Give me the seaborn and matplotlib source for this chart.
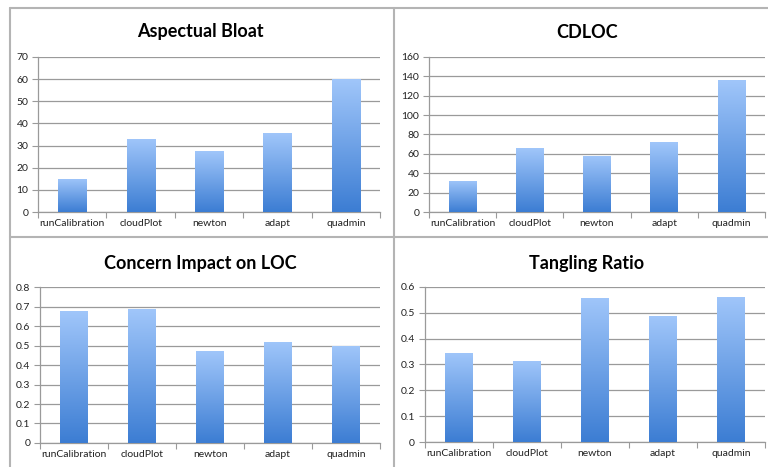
import matplotlib
matplotlib.use("Agg")
import matplotlib.pyplot as plt
import matplotlib.colors as mcolors
from matplotlib.lines import Line2D
import seaborn as sns
import numpy as np
import pandas as pd

programs = ["runCalibration", "cloudPlot", "newton", "adapt", "quadmin"]

aspectual_bloat = [15, 33, 27.5, 35.5, 60]
cdloc = [32, 66, 58, 72, 136]
concern_impact = [0.675, 0.685, 0.47, 0.52, 0.50]
tangling_ratio = [0.345, 0.315, 0.558, 0.487, 0.563]

titles = ["Aspectual Bloat", "CDLOC", "Concern Impact on LOC", "Tangling Ratio"]
series = [aspectual_bloat, cdloc, concern_impact, tangling_ratio]
y_max = [70, 160, 0.8, 0.6]
y_step = [10, 20, 0.1, 0.1]

sns.set_theme(style="white")
plt.rcParams['font.family'] = ['Lato', 'DejaVu Sans']

fig = plt.figure(figsize=(7.68, 4.67), dpi=100)

# axes rectangles in figure fractions
rects = [
    [0.0495, 0.546, 0.4455, 0.332],
    [0.5586, 0.546, 0.4374, 0.332],
    [0.052, 0.0514, 0.443, 0.334],
    [0.553, 0.0535, 0.443, 0.332],
]
title_pos = [(200, 32), (587, 32), (200, 263), (587, 263)]

grad_cmap = mcolors.LinearSegmentedColormap.from_list(
    "bar_grad", ["#3C7DD3", "#A0C6FA"])
gradient = np.linspace(0, 1, 256).reshape(-1, 1)

for rect, title, vals, ymax, step, tp in zip(rects, titles, series, y_max, y_step, title_pos):
    ax = fig.add_axes(rect)
    df = pd.DataFrame({"program": programs, "value": vals})
    sns.barplot(data=df, x="program", y="value", ax=ax, color="#5B95E0",
                width=0.41, saturation=1)

    # gradient fill clipped to each bar
    for bar in ax.patches:
        x0, y0 = bar.get_x(), bar.get_y()
        w, h = bar.get_width(), bar.get_height()
        im = ax.imshow(gradient, cmap=grad_cmap, aspect="auto",
                       extent=[x0, x0 + w, y0, y0 + h], origin="lower", zorder=3)
        im.set_clip_path(bar)
        bar.set_facecolor("none")
        bar.set_edgecolor("none")

    ax.set_xlim(-0.5, 4.5)
    ax.set_ylim(0, ymax)
    ticks = np.round(np.arange(0, ymax + step / 2, step), 2)
    ax.set_yticks(ticks)
    if step < 1:
        ax.set_yticklabels([("0" if t == 0 else f"{t:.1f}") for t in ticks])
    else:
        ax.set_yticklabels([str(int(t)) for t in ticks])
    ax.yaxis.grid(True, color="#9A9A9A", linewidth=0.9)
    ax.set_axisbelow(True)
    ax.set_xlabel("")
    ax.set_ylabel("")

    for side in ["top", "right"]:
        ax.spines[side].set_visible(False)
    for side in ["left", "bottom"]:
        ax.spines[side].set_color("#9A9A9A")
        ax.spines[side].set_linewidth(0.9)

    ax.set_xticks(np.arange(-0.5, 5, 1), minor=True)
    ax.tick_params(axis="x", which="major", length=0, labelsize=7.5,
                   pad=5, colors="#222222")
    ax.tick_params(axis="x", which="minor", length=4, width=0.8,
                   color="#9A9A9A", direction="out", bottom=True)
    ax.tick_params(axis="y", length=4, width=0.8, color="#9A9A9A",
                   direction="out", left=True, labelsize=7.5, pad=3,
                   labelcolor="#222222")

    fig.text(tp[0] / 768, 1 - tp[1] / 467, title, ha="center", va="center",
             fontsize=13, fontweight="bold", color="black")

# panel frame lines
frame_color = "#B4B4B4"
fig.add_artist(Line2D([10 / 768, 1], [1 - 8 / 467] * 2, color=frame_color, lw=1.5))
fig.add_artist(Line2D([10 / 768] * 2, [0, 1 - 8 / 467], color=frame_color, lw=1.5))
fig.add_artist(Line2D([394 / 768] * 2, [0, 1 - 8 / 467], color=frame_color, lw=1.5))
fig.add_artist(Line2D([10 / 768, 1], [1 - 237 / 467] * 2, color=frame_color, lw=1.5))

fig.savefig("out.png", dpi=100)
